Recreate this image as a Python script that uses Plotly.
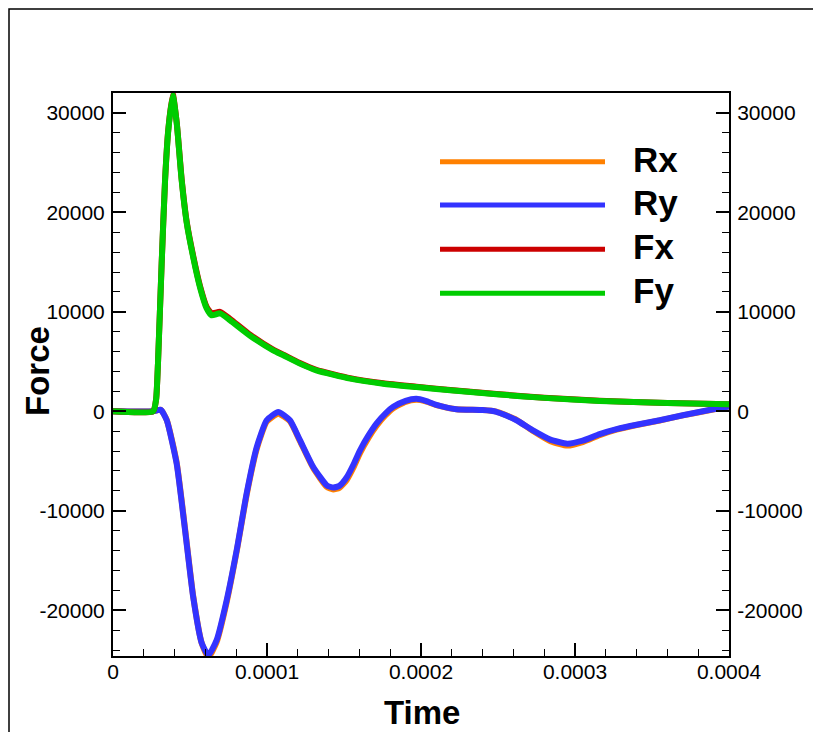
import plotly.graph_objects as go

# ---------------- data ----------------
t_F = [0.0, 2.6e-5, 2.8e-5, 2.92e-5, 3.16e-5, 3.38e-5, 3.59e-5, 3.88e-5, 4.14e-5, 4.46e-5,
       4.79e-5, 5.21e-5, 5.65e-5, 6.08e-5, 6.41e-5, 6.95e-5, 7.6e-5, 8.9e-5,
       1.04e-4, 1.106e-4, 1.21e-4, 1.32e-4, 1.54e-4, 1.755e-4, 1.97e-4, 2.19e-4,
       2.49e-4, 2.8e-4, 3.16e-4, 3.6e-4, 4.0e-4]
Fy = [0, 0, 1200, 4800, 14870, 23200, 28240, 31800, 28940, 23200,
      18900, 15480, 12460, 10350, 9650, 9850, 9150, 7600,
      6130, 5630, 4820, 4120, 3290, 2780, 2440, 2110,
      1710, 1350, 1040, 830, 700]
Fx = [0, 0, 1200, 4800, 14870, 23200, 28300, 31900, 29000, 23300,
      19000, 15600, 12600, 10500, 9850, 10000, 9300, 7700,
      6200, 5700, 4880, 4180, 3340, 2830, 2480, 2140,
      1740, 1370, 1060, 840, 700]

t_R = [0.0, 2.6e-5, 3.1e-5, 3.49e-5, 4.13e-5, 4.68e-5, 5.21e-5, 5.76e-5, 6.19e-5,
       6.73e-5, 7.38e-5, 8.03e-5, 8.68e-5, 9.33e-5, 9.98e-5, 1.073e-4, 1.149e-4,
       1.214e-4, 1.3e-4, 1.388e-4, 1.43e-4, 1.47e-4, 1.518e-4, 1.56e-4, 1.604e-4,
       1.66e-4, 1.712e-4, 1.77e-4, 1.82e-4, 1.9e-4, 1.97e-4, 2.03e-4, 2.1e-4,
       2.23e-4, 2.4e-4, 2.49e-4, 2.55e-4, 2.62e-4, 2.73e-4, 2.84e-4, 2.95e-4,
       3.05e-4, 3.16e-4, 3.27e-4, 3.4e-4, 3.55e-4, 3.7e-4, 3.88e-4, 4.0e-4]
Ry = [0, 0, 150, -900, -5230, -11960, -18700, -23300, -24520,
      -23000, -19000, -13970, -8240, -3620, -900, -70, -900,
      -2900, -5600, -7440, -7670, -7500, -6630, -5400, -3920,
      -2400, -1210, -200, 450, 1050, 1250, 1050, 650,
      200, 120, -50, -400, -900, -1950, -2850, -3250,
      -2950, -2300, -1800, -1350, -900, -400, 150, 500]
Rx = [0, 0, 150, -850, -5100, -11800, -18600, -23300, -24750,
      -23200, -19200, -14100, -8400, -3800, -1050, -250, -1000,
      -3000, -5700, -7600, -7850, -7700, -6900, -5700, -4200,
      -2650, -1450, -400, 300, 950, 1150, 1000, 620,
      200, 130, -30, -380, -850, -2000, -3000, -3450,
      -3100, -2400, -1850, -1380, -920, -410, 130, 500]

series_names = ["Rx", "Ry", "Fx", "Fy"]
series_colors = ["#ff8000", "#3333ff", "#cc0000", "#00cc00"]

x_range = [0.0, 0.0004]
x_tick_vals = [0.0, 0.0001, 0.0002, 0.0003, 0.0004]
x_tick_text = ["0", "0.0001", "0.0002", "0.0003", "0.0004"]
y_range = [-24600, 32000]
y_tick_vals = [-20000, -10000, 0, 10000, 20000, 30000]
y_tick_text = ["-20000", "-10000", "0", "10000", "20000", "30000"]
x_title = "Time"
y_title = "Force"

# ---------------- geometry (page pixels; page body has an 8px margin) ----------------
OFF = 8
W, H = 821 - OFF, 732 - OFF
L, T = 113 - OFF, 93 - OFF
R = W - (729 - OFF)
B = H - (656 - OFF)
PW, PH = W - L - R, H - T - B


def px_x(px):
    return (px - OFF - L) / PW


def px_y(py):
    return (H - B - (py - OFF)) / PH


FONT = "Liberation Sans, Arial, Helvetica, sans-serif"

fig = go.Figure()
data = [(t_R, Rx), (t_R, Ry), (t_F, Fx), (t_F, Fy)]
for (tx, ty), name, col in zip(data, series_names, series_colors):
    fig.add_trace(go.Scatter(
        x=tx, y=ty, name=name, mode="lines",
        line=dict(color=col, width=6, shape="spline", smoothing=0.5),
        showlegend=False,
        yaxis="y2" if name == "Fy" else "y",
    ))

axis_common = dict(
    ticks="inside", ticklen=13, tickwidth=2, tickcolor="black",
    showline=True, linewidth=2, linecolor="black",
    showgrid=False, zeroline=False,
    tickfont=dict(family=FONT, size=21, color="black"),
)
y_minor = dict(ticks="inside", ticklen=7, tickwidth=1, tickcolor="black",
               dtick=2000, tick0=0, showgrid=False)

fig.update_layout(
    width=W, height=H, autosize=False,
    margin=dict(l=L, r=R, t=T, b=B),
    paper_bgcolor="white", plot_bgcolor="white",
    xaxis=dict(
        range=x_range, tickvals=x_tick_vals, ticktext=x_tick_text,
        mirror=True, ticklabelstandoff=-4,
        minor=dict(ticks="inside", ticklen=7, tickwidth=1, tickcolor="black",
                   dtick=0.00002, tick0=0, showgrid=False),
        **axis_common,
    ),
    yaxis=dict(
        range=y_range, tickvals=y_tick_vals, ticktext=y_tick_text,
        mirror=True, ticklabelstandoff=2,
        minor=y_minor,
        **axis_common,
    ),
    yaxis2=dict(
        range=y_range, tickvals=y_tick_vals, ticktext=y_tick_text,
        overlaying="y", side="right", ticklabelstandoff=2,
        minor=y_minor,
        **axis_common,
    ),
)

# axis titles
fig.add_annotation(xref="paper", yref="paper", x=px_x(421.5), y=px_y(712),
                   text=x_title, showarrow=False, xanchor="center", yanchor="middle",
                   font=dict(family=FONT, size=33, color="black", weight="bold"))
fig.add_annotation(xref="paper", yref="paper", x=px_x(37), y=px_y(371),
                   text=y_title, showarrow=False, xanchor="center", yanchor="middle",
                   textangle=-90,
                   font=dict(family=FONT, size=33, color="black", weight="bold"))

# outer frame
fig.add_shape(type="rect", xref="paper", yref="paper",
              x0=px_x(OFF + 1), x1=px_x(816), y0=px_y(800), y1=px_y(OFF + 1),
              line=dict(color="black", width=1.5), layer="below")

# manual legend (long line samples)
legend_rows_py = [161.7, 205.0, 249.3, 293.3]
for name, col, py in zip(series_names, series_colors, legend_rows_py):
    fig.add_shape(type="line", xref="paper", yref="paper",
                  x0=px_x(440), x1=px_x(605), y0=px_y(py), y1=px_y(py),
                  line=dict(color=col, width=5))
    fig.add_annotation(xref="paper", yref="paper", x=px_x(631), y=px_y(py - 2.5),
                       text=name, showarrow=False, xanchor="left", yanchor="middle",
                       font=dict(family=FONT, size=35, color="black", weight="bold"))

fig.write_html("out.html")
